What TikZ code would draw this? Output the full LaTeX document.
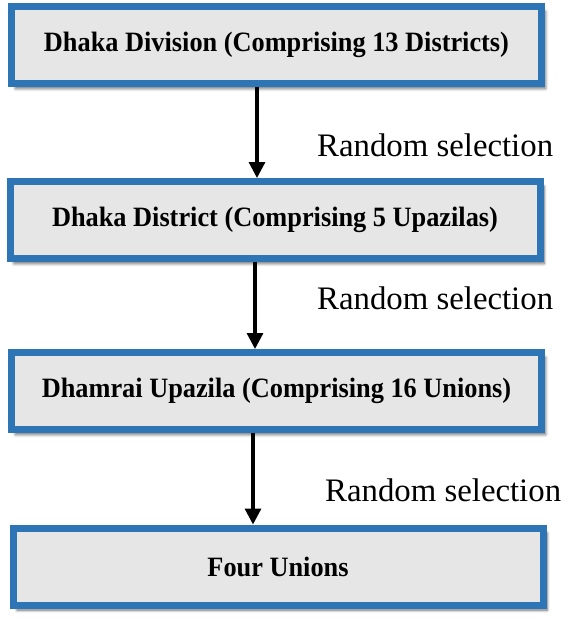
\documentclass[tikz,border=0pt]{standalone}
\usepackage{fontspec}
\setmainfont{Liberation Serif}
\usetikzlibrary{arrows.meta,shadows.blur}
\definecolor{boxblue}{HTML}{2E75B6}
\definecolor{boxfill}{HTML}{E6E6E6}
\newcommand{\boxtxt}[1]{\scalebox{0.94}[1]{#1}}
\begin{document}
\begin{tikzpicture}[x=1pt,y=1pt,
  stagebox/.style={draw=boxblue, fill=boxfill, line width=7pt, rectangle,
    minimum width=530pt, minimum height=77pt, inner sep=0pt,
    blur shadow={shadow xshift=4pt, shadow yshift=-5pt, shadow blur steps=6, shadow opacity=60, shadow blur radius=3pt},
    font=\fontsize{28}{32}\selectfont\bfseries},
  arr/.style={line width=3.2pt, -{Triangle[width=16pt,length=16pt]}},
  sel/.style={anchor=west, inner sep=0pt, font=\fontsize{32.8}{36}\selectfont}]
\useasboundingbox (0,0) rectangle (563,-624);
\node[stagebox] (b1) at (276.5,-45) {\boxtxt{Dhaka Division (Comprising 13 Districts)}};
\node[stagebox] (b2) at (275,-220) {\boxtxt{Dhaka District (Comprising 5 Upazilas)}};
\node[stagebox] (b3) at (276.5,-391) {\boxtxt{Dhamrai Upazila (Comprising 16 Unions)}};
\node[stagebox] (b4) at (278,-566.5) {\boxtxt{Four Unions}};
\coordinate (ax1) at (257,0);
\coordinate (ax2) at (255,0);
\coordinate (ax3) at (253,0);
\draw[arr] (b1.south -| ax1) -- (b2.north -| ax1);
\draw[arr] (b2.south -| ax2) -- (b3.north -| ax2);
\draw[arr] (b3.south -| ax3) -- (b4.north -| ax3);
\node[sel] (r1) at (317,-145) {Random selection};
\node[sel] (r2) at (317,-298) {Random selection};
\node[sel] (r3) at (325,-490) {Random selection};
\end{tikzpicture}
\end{document}
